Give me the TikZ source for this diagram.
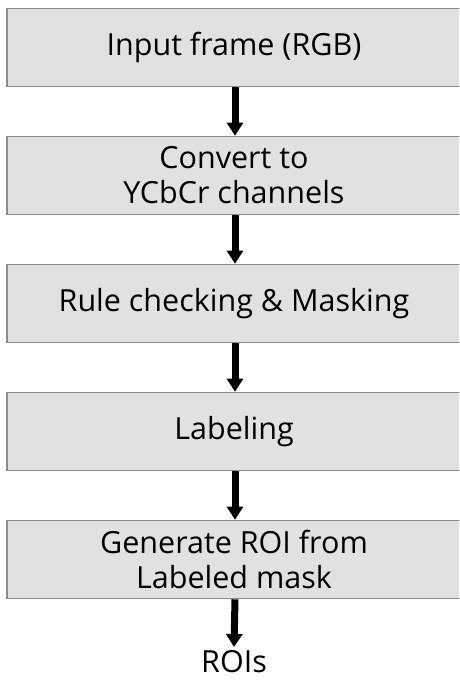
\documentclass[tikz,border=0pt]{standalone}
\usepackage{fontspec}
\setmainfont{Open Sans}
\usetikzlibrary{arrows.meta}
\definecolor{boxfill}{RGB}{225,225,225}
\definecolor{boxline}{RGB}{140,140,140}
\tikzset{
  steptext/.style={font=\fontsize{30.5}{35}\selectfont},
  stepbox/.style={draw=boxline, line width=1.6pt, fill=boxfill,
    minimum width=454pt, minimum height=78pt, inner sep=0pt,
    align=center, steptext},
  flow/.style={line width=7pt, -{Triangle[width=16pt,length=13pt]}},
}
\begin{document}
\begin{tikzpicture}[x=1pt,y=1pt]
  \useasboundingbox (0,0) rectangle (459,680);
  \clip (0,0) rectangle (459,680);
  % processing steps, top to bottom
  \node[stepbox] (in)   at (234,632.5) {Input frame (RGB)};
  \node[stepbox] (conv) at (234,504.5) {Convert to\\YCbCr channels};
  \node[stepbox] (mask) at (234,376.5) {Rule checking \& Masking};
  \node[stepbox] (lab)  at (234,248.5) {Labeling};
  \node[stepbox] (roi)  at (234,120.5) {Generate ROI from\\Labeled mask};
  \node[steptext, inner sep=0pt, anchor=base] (out) at (234,7) {ROIs};
  \coordinate (outtop) at (234,33);
  % connectors
  \draw[flow] (in.south -| 235,0) -- (conv.north -| 235,0);
  \draw[flow] (conv.south -| 235,0) -- (mask.north -| 235,0);
  \draw[flow] (mask.south -| 235,0) -- (lab.north -| 235,0);
  \draw[flow] (lab.south -| 235,0) -- (roi.north -| 235,0);
  \draw[flow] (roi.south -| 235,0) -- (outtop);
\end{tikzpicture}
\end{document}
